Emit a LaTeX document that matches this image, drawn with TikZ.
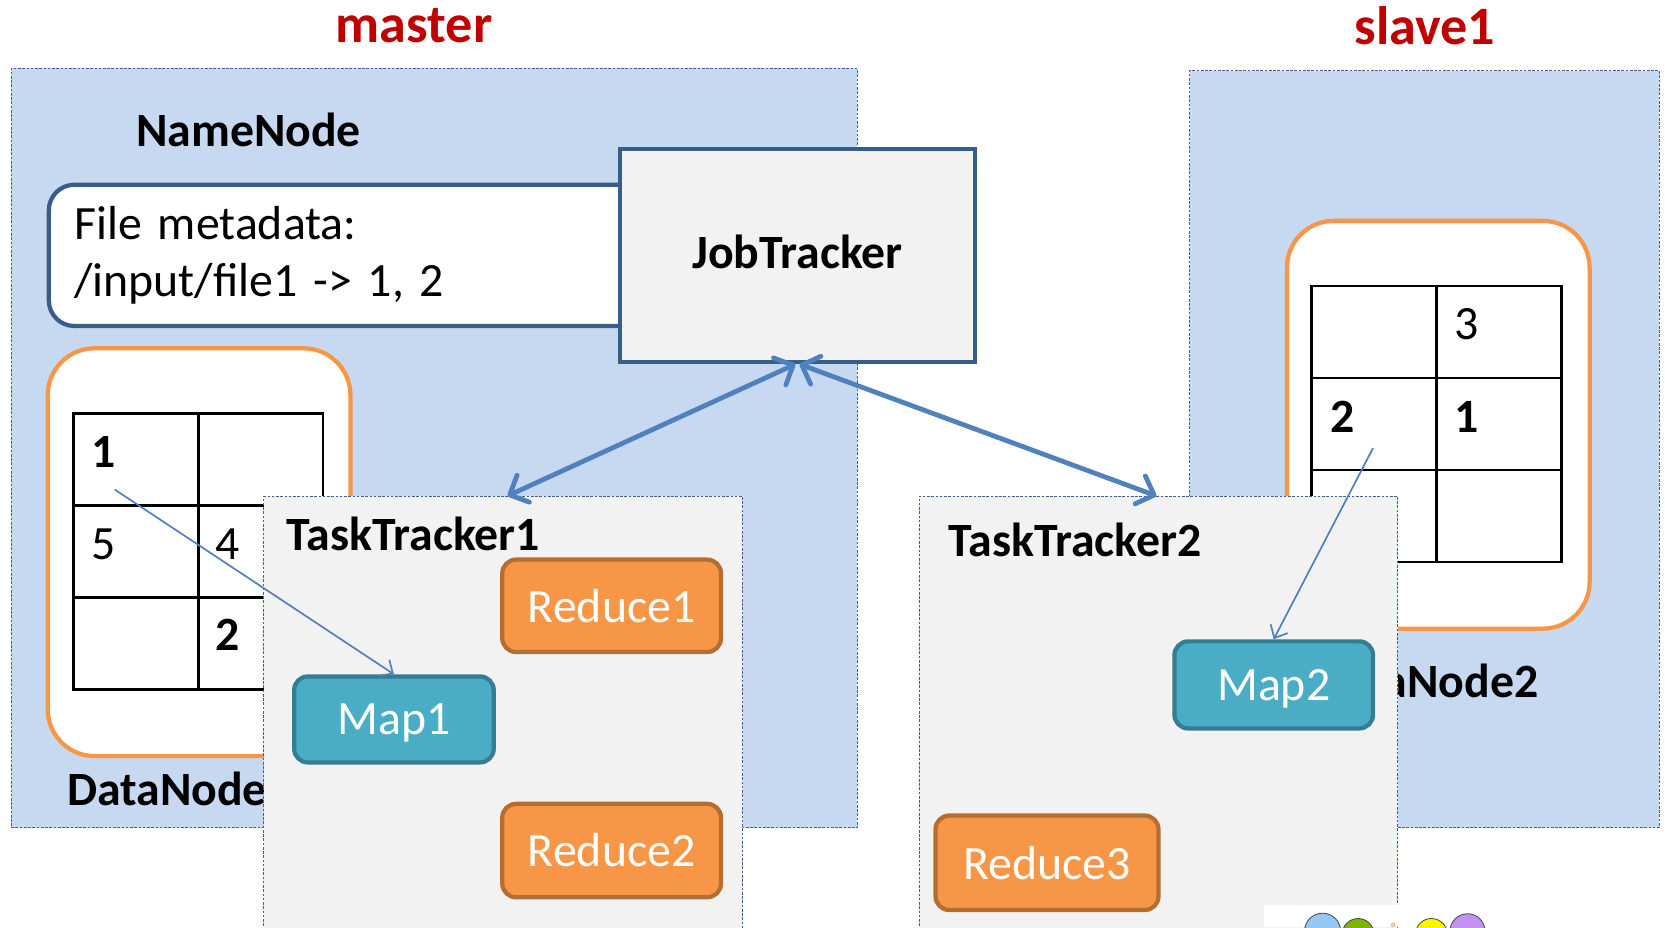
\documentclass[tikz,border=0pt]{standalone}
\usepackage{fontspec}
\setmainfont{Carlito}
\usetikzlibrary{arrows.meta}

\definecolor{hostfill}{RGB}{198,217,240}
\definecolor{hostline}{RGB}{64,96,150}
\definecolor{navy}{RGB}{56,93,138}
\definecolor{ttfill}{RGB}{242,242,242}
\definecolor{dnline}{RGB}{247,150,70}
\definecolor{redfill}{RGB}{247,150,70}
\definecolor{redline}{RGB}{182,109,49}
\definecolor{mapfill}{RGB}{75,172,198}
\definecolor{mapline}{RGB}{53,125,145}
\definecolor{linkblue}{RGB}{79,129,189}
\definecolor{titlered}{RGB}{192,0,0}
\definecolor{dotblue}{RGB}{150,200,245}
\definecolor{dotgreen}{RGB}{125,180,0}
\definecolor{dotyellow}{RGB}{250,245,0}
\definecolor{dotpurple}{RGB}{195,145,240}

\tikzset{
  basefont/.style={font=\fontsize{45}{54}\selectfont},
  boldfont/.style={font=\fontsize{45}{54}\selectfont\bfseries},
  title/.style={font=\fontsize{51}{58}\selectfont\bfseries, text=titlered, inner sep=0},
  host/.style={draw=hostline, fill=hostfill, line width=1pt,
    dash pattern=on 2.5pt off 1.5pt, anchor=north west, inner sep=0},
  tracker/.style={draw=hostline, fill=ttfill, line width=1pt,
    dash pattern=on 2.5pt off 1.5pt, anchor=north west, inner sep=0,
    minimum width=451, minimum height=440},
  label/.style={boldfont, anchor=west, inner sep=0},
  metabox/.style={draw=navy, fill=white, line width=4pt, rounded corners=24,
    anchor=north west, basefont, align=left, inner xsep=24, inner ysep=0},
  jobbox/.style={draw=navy, fill=ttfill, line width=4pt, anchor=north west,
    boldfont, text depth=0pt, minimum width=334, minimum height=201},
  dnbox/.style={draw=dnline, fill=white, line width=4pt, rounded corners=44,
    anchor=north west, minimum width=285, minimum height=384, inner sep=0},
  cell/.style={draw=black, line width=2.5pt, anchor=north west,
    minimum width=117.5, minimum height=86.7, inner sep=0},
  digit/.style={basefont, anchor=base west, inner sep=0},
  bolddigit/.style={boldfont, anchor=base west, inner sep=0},
  reducebox/.style={draw=redline, fill=redfill, line width=4pt, rounded corners=13,
    basefont, text=white},
  mapbox/.style={draw=mapline, fill=mapfill, line width=4pt, rounded corners=13,
    basefont, text=white, text depth=0pt},
  biglink/.style={draw=linkblue, line width=4.5pt, line cap=round,
    {Straight Barb[length=14pt,width=28pt,line cap=round,line join=round]}-{Straight Barb[length=14pt,width=28pt,line cap=round,line join=round]}},
  smalllink/.style={draw=linkblue, line width=1.6pt,
    -{Straight Barb[length=10pt,width=18pt]}},
  dot/.style={circle, draw=black!70, line width=0.8pt, inner sep=0}
}

\begin{document}
\begin{tikzpicture}[x=1pt,y=-1pt]
\clip (0,0) rectangle (1568,873);
\fill[white] (0,0) rectangle (1568,873);

% host machines
\node[host, minimum width=797, minimum height=715] (master) at (10,64) {};
\node[host, minimum width=442, minimum height=713] (slave) at (1120,66) {};
\node[title] (mastertitle) at (390,24) {master};
\node[title] (slavetitle) at (1342,24) {slave1};

% NameNode with its file metadata
\node[label] (namenode) at (128,122) {NameNode};
\node[metabox, text width=560, minimum height=133] (meta) at (44,172)
  {File metadata:\\/input/file1 -> 1, 2};
\node[jobbox] (jt) at (582,138) {\raisebox{6pt}{JobTracker}};

% DataNode1 and its blocks
\node[dnbox] (dn1) at (43,326) {};
\node[cell] (a11) at (68,388.0) {};
\node[cell] (a12) at (185.5,388.0) {};
\node[cell] (a21) at (68,474.7) {};
\node[cell] (a22) at (185.5,474.7) {};
\node[cell] (a31) at (68,561.4) {};
\node[cell] (a32) at (185.5,561.4) {};
\node[bolddigit] (d11) at (86,440) {1};
\node[digit] (d21) at (86,527) {5};
\node[digit] (d22) at (203,527) {4};
\node[bolddigit] (d32) at (203,613) {2};
\node[label] (dn1label) at (63,743) {DataNode1};

% DataNode2 and its blocks
\node[dnbox] (dn2) at (1210,206) {};
\node[cell] (b11) at (1234,268.0) {};
\node[cell] (b12) at (1351.5,268.0) {};
\node[cell] (b21) at (1234,354.7) {};
\node[cell] (b22) at (1351.5,354.7) {};
\node[cell] (b31) at (1234,441.4) {};
\node[cell] (b32) at (1351.5,441.4) {};
\node[digit] (e12) at (1370,320) {3};
\node[bolddigit] (e21) at (1253,407) {2};
\node[bolddigit] (e22) at (1370,407) {1};
\node[label, anchor=east] (dn2label) at (1449,641) {DataNode2};

% TaskTracker1 and its tasks
\node[tracker] (tt1) at (248,467) {};
\node[label] (tt1label) at (270,503) {TaskTracker1};
\node[reducebox, minimum width=206, minimum height=87] (r1) at (576,570.5) {Reduce1};
\node[mapbox, minimum width=188, minimum height=81] (m1) at (371,677.5) {Map1};
\node[reducebox, minimum width=206, minimum height=88] (r2) at (576,801) {Reduce2};

% TaskTracker2 and its tasks
\node[tracker] (tt2) at (865,467) {};
\node[label] (tt2label) at (893,508) {TaskTracker2};
\node[mapbox, minimum width=187, minimum height=82] (m2) at (1199.5,645) {Map2};
\node[reducebox, minimum width=210, minimum height=89] (r3) at (986,812.5) {Reduce3};

% JobTracker <-> TaskTrackers
\draw[biglink] ([xshift=-2pt]jt.south) -- ([xshift=4pt]tt1.north);
\draw[biglink] ([xshift=2pt]jt.south) -- ([xshift=-2pt]tt2.north);

% blocks read by the map tasks
\coordinate (src1) at (108,461);
\coordinate (src2) at (1293,422);
\draw[smalllink] (src1) -- (m1.north);
\draw[smalllink] (src2) -- (m2.north);

% corner badge
\fill[white] (1190,852) rectangle (1568,873);
\node[dot, fill=dotblue, minimum size=34] (c1) at (1245.5,877) {};
\node[dot, fill=dotgreen, minimum size=30] (c2) at (1279,880) {};
\node[circle, fill=brown!40, inner sep=0, minimum size=5] (c3) at (1312,871) {};
\node[dot, fill=dotyellow, minimum size=30] (c4) at (1348,880) {};
\node[dot, fill=dotpurple, minimum size=33] (c5) at (1382,877) {};
\end{tikzpicture}
\end{document}
